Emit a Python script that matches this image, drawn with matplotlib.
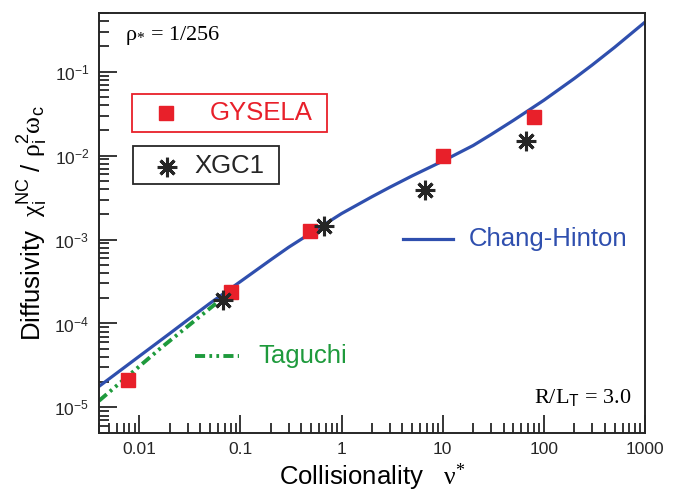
import matplotlib
matplotlib.use("Agg")
import matplotlib.pyplot as plt
from matplotlib.patches import Rectangle
from matplotlib.ticker import FixedLocator, LogLocator, NullFormatter

plt.rcParams['font.family'] = 'Liberation Sans'
plt.rcParams['mathtext.fontset'] = 'custom'
plt.rcParams['mathtext.rm'] = 'Liberation Serif'
plt.rcParams['mathtext.it'] = 'Liberation Serif:italic'
plt.rcParams['mathtext.sf'] = 'Liberation Sans'
plt.rcParams['mathtext.bf'] = 'Liberation Serif:bold'

# Chang-Hinton neoclassical curve
ch_nu = [0.004, 0.01, 0.02, 0.03, 0.05, 0.1, 0.2, 0.3, 0.5, 1, 2, 3, 5,
         10, 20, 30, 50, 100, 200, 300, 500, 1000]
ch_chi = [1.78e-5, 4.07e-5, 7.6e-5, 1.1e-4, 1.74e-4, 3.16e-4, 5.75e-4,
          8.1e-4, 1.2e-3, 2.04e-3, 3.24e-3, 4.2e-3, 5.75e-3, 8.6e-3,
          1.32e-2, 1.78e-2, 2.63e-2, 4.57e-2, 8.3e-2, 0.12, 0.195, 0.39]

# Taguchi
tg_nu = [0.004, 0.016, 0.059]
tg_chi = [1.2e-5, 5.0e-5, 1.78e-4]

# simulation results
gys_nu = [0.0078, 0.08, 0.49, 10, 80]
gys_chi = [2.1e-5, 2.4e-4, 1.26e-3, 9.8e-3, 2.9e-2]
xgc_nu = [0.068, 0.67, 6.7, 66]
xgc_chi = [1.9e-4, 1.45e-3, 3.9e-3, 1.5e-2]

x_ticks = [0.01, 0.1, 1, 10, 100, 1000]
x_labels = ['0.01', '0.1', '1', '10', '100', '1000']

blue = '#2f4fae'
red = '#e8202a'
green = '#1e9a3c'
dark = '#262626'
star = (8, 2, 0)
taguchi_ls = (0, (2.6, 1.1, 0.7, 1.1, 0.7, 1.1))

fig = plt.figure(figsize=(6.79, 4.96), dpi=100)
ax = fig.add_axes([0.1458, 0.1276, 0.8042, 0.8462])

ax.plot(ch_nu, ch_chi, color=blue, lw=2.3)
ax.plot(tg_nu, tg_chi, color=green, lw=2.8, linestyle=taguchi_ls)
ax.plot(gys_nu, gys_chi, ls='none', marker='s', ms=10.5, color=red, mec=red)
ax.plot(xgc_nu, xgc_chi, ls='none', marker=star, ms=14, mew=2.2,
        color=dark, mec=dark)

ax.set_xscale('log')
ax.set_yscale('log')
ax.set_xlim(0.004, 1000)
ax.set_ylim(5e-6, 0.5)

ax.xaxis.set_major_locator(FixedLocator(x_ticks))
ax.set_xticklabels(x_labels)
ax.xaxis.set_minor_locator(LogLocator(base=10, subs=range(2, 10), numticks=20))
ax.xaxis.set_minor_formatter(NullFormatter())
ax.yaxis.set_major_locator(LogLocator(base=10, numticks=10))
ax.yaxis.set_minor_locator(LogLocator(base=10, subs=range(2, 10), numticks=20))
ax.yaxis.set_minor_formatter(NullFormatter())

ax.tick_params(which='major', direction='in', length=13, width=1.3,
               top=False, right=False, labelsize=12.5, pad=7, colors=dark)
ax.tick_params(which='minor', direction='in', length=7, width=1.3,
               top=False, right=False, colors=dark)
for sp in ax.spines.values():
    sp.set_linewidth(1.4)
    sp.set_color(dark)

ax.set_xlabel(r'Collisionality   $\mathrm{\nu}^{*}$', fontsize=18.5, labelpad=3)
ax.set_ylabel(r'Diffusivity  $\mathrm{\chi}_{\mathsf{i}}^{\mathsf{NC}}$ / '
              r'$\mathrm{\rho}_{\mathsf{i}}^{\mathsf{2}}\mathrm{\omega}_{\mathsf{c}}$',
              fontsize=18.5, labelpad=4)

ax.text(0.048, 0.947, r'$\mathrm{\rho}_{*}$ = 1/256', transform=ax.transAxes,
        fontsize=16, family='Liberation Serif', va='center', ha='left')
ax.text(0.975, 0.085, r'R/L$_{\mathsf{T}}$ = 3.0', transform=ax.transAxes,
        fontsize=16, family='Liberation Serif', va='center', ha='right')

# boxed legend entries
ax.add_patch(Rectangle((0.0604, 0.7165), 0.3572, 0.0905, transform=ax.transAxes,
                       fill=False, ec=red, lw=1.3))
ax.plot([0.1227], [0.762], transform=ax.transAxes, marker='s', ms=10.5,
        color=red, mec=red)
ax.text(0.203, 0.762, 'GYSELA', transform=ax.transAxes, color=red,
        fontsize=18.5, va='center', ha='left')

ax.add_patch(Rectangle((0.0623, 0.5926), 0.2674, 0.0904, transform=ax.transAxes,
                       fill=False, ec=dark, lw=1.3))
ax.plot([0.1245], [0.633], transform=ax.transAxes, marker=star, ms=14,
        mew=2.2, color=dark, mec=dark)
ax.text(0.174, 0.636, 'XGC1', transform=ax.transAxes, color=dark,
        fontsize=18.5, va='center', ha='left')

ax.plot([0.5574, 0.6478], [0.4615, 0.4615], transform=ax.transAxes,
        color=blue, lw=2.3)
ax.text(0.678, 0.4615, 'Chang-Hinton', transform=ax.transAxes, color=blue,
        fontsize=18.5, va='center', ha='left')

ax.plot([0.1758, 0.2564], [0.1827, 0.1827], transform=ax.transAxes,
        color=green, lw=2.8, linestyle=taguchi_ls)
ax.text(0.2918, 0.1827, 'Taguchi', transform=ax.transAxes, color=green,
        fontsize=18.5, va='center', ha='left')

fig.savefig('out.png', dpi=100)
